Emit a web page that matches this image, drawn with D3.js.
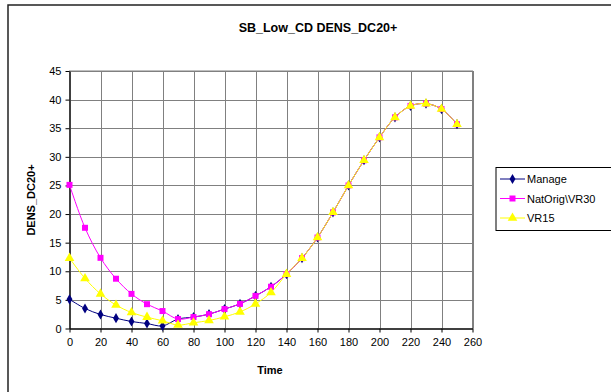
<!DOCTYPE html>
<html><head><meta charset="utf-8">
<script src="https://cdn.jsdelivr.net/npm/d3@7"></script>
<style>body{margin:0;background:#fff}svg{display:block}text{font-family:"Liberation Sans",Arial,sans-serif}</style>
</head><body><svg id="c" width="611" height="392"></svg>
<script>
const times = [0,10,20,30,40,50,60,70,80,90,100,110,120,130,140,150,160,170,180,190,200,210,220,230,240,250];
const manage = [5.1,3.5,2.45,1.8,1.22,0.87,0.45,1.65,2.0,2.5,3.4,4.3,5.7,7.3,9.5,12.3,15.9,20.3,25.0,29.4,33.4,36.9,38.9,39.3,38.35,35.7];
const natOrig = [25.1,17.6,12.35,8.7,6.05,4.25,3.05,1.65,2.0,2.5,3.4,4.3,5.7,7.3,9.5,12.3,15.9,20.3,25.0,29.4,33.4,36.9,38.9,39.3,38.35,35.7];
const vr15 = [12.3,8.75,6.05,4.1,2.8,1.98,1.35,0.6,1.0,1.4,2.05,2.9,4.3,6.3,9.5,12.3,15.9,20.3,25.0,29.4,33.4,36.9,38.9,39.3,38.35,35.7];
const seriesNames = ["Manage","NatOrig\\VR30","VR15"];
const seriesColors = ["#000080","#FF00FF","#FFFF00"];
const xTicks = d3.range(0,261,20);
const yTicks = d3.range(0,46,5);

const svg = d3.select("#c");
const L=69.5,R=472.5,T=71,B=328.5;
const x = d3.scaleLinear().domain([0,260]).range([L,R]);
const y = d3.scaleLinear().domain([0,45]).range([B,T]);

// chart border
svg.append("rect").attr("x",8).attr("y",5).attr("width",640).attr("height",420)
  .attr("fill","#fff").attr("stroke","#222").attr("stroke-width",1.5);

svg.append("text").attr("x",318).attr("y",32).attr("text-anchor","middle")
  .attr("font-size",12.5).attr("font-weight","bold").text("SB_Low_CD DENS_DC20+");

// grid
const g = svg.append("g");
g.selectAll(".gy").data(yTicks).join("line").attr("x1",L).attr("x2",R)
  .attr("y1",d=>Math.round(y(d))+0.5).attr("y2",d=>Math.round(y(d))+0.5).attr("stroke","#808080");
g.selectAll(".gx").data(xTicks).join("line").attr("y1",T).attr("y2",B)
  .attr("x1",d=>Math.round(x(d))+0.5).attr("x2",d=>Math.round(x(d))+0.5).attr("stroke","#808080");
g.append("rect").attr("x",L).attr("y",T).attr("width",R-L).attr("height",B-T).attr("fill","none").attr("stroke","#808080");

// axes
const xa = svg.append("g").attr("transform",`translate(0,${B})`)
  .call(d3.axisBottom(x).tickValues(xTicks).tickSize(4).tickSizeOuter(0).tickPadding(6));
const ya = svg.append("g").attr("transform",`translate(${L},0)`)
  .call(d3.axisLeft(y).tickValues(yTicks).tickSize(4).tickSizeOuter(0).tickPadding(4));
[xa,ya].forEach(a=>{a.selectAll("text").attr("font-size",11).attr("fill","#000").attr("font-family","Liberation Sans, Arial, sans-serif");
  a.selectAll("line,path").attr("stroke","#000");});

svg.append("text").attr("x",270).attr("y",374).attr("text-anchor","middle").attr("font-size",11).attr("font-weight","bold").text("Time");
svg.append("text").attr("transform","translate(35,200) rotate(-90)").attr("text-anchor","middle").attr("font-size",11).attr("font-weight","bold").text("DENS_DC20+");

const data = [manage,natOrig,vr15];
const line = d3.line().x((d,i)=>x(times[i])).y(d=>y(d)).curve(d3.curveCatmullRom.alpha(0.5));
const sym = [d3.symbolDiamond, d3.symbolSquare, d3.symbolTriangle];
const symSize = [30,36,40];
data.forEach((vals,k)=>{
  svg.append("path").datum(vals).attr("d",line).attr("fill","none").attr("stroke",seriesColors[k]).attr("stroke-width",1);
});
data.forEach((vals,k)=>{
  svg.append("g").selectAll("path").data(vals).join("path")
    .attr("transform",(d,i)=>`translate(${x(times[i])},${y(d)})`)
    .attr("d",d3.symbol().type(sym[k]).size(symSize[k])).attr("fill",seriesColors[k]);
});

// legend
const lg = svg.append("g");
lg.append("rect").attr("x",496).attr("y",167.5).attr("width",140).attr("height",63).attr("fill","#fff").attr("stroke","#000");
seriesNames.forEach((n,k)=>{
  const yy = 179 + k*19.5;
  lg.append("line").attr("x1",500).attr("x2",525).attr("y1",yy).attr("y2",yy).attr("stroke",seriesColors[k]);
  lg.append("path").attr("transform",`translate(512.5,${yy})`).attr("d",d3.symbol().type(sym[k]).size(symSize[k])).attr("fill",seriesColors[k]);
  lg.append("text").attr("x",527).attr("y",yy+4).attr("font-size",11).text(n);
});
</script></body></html>
